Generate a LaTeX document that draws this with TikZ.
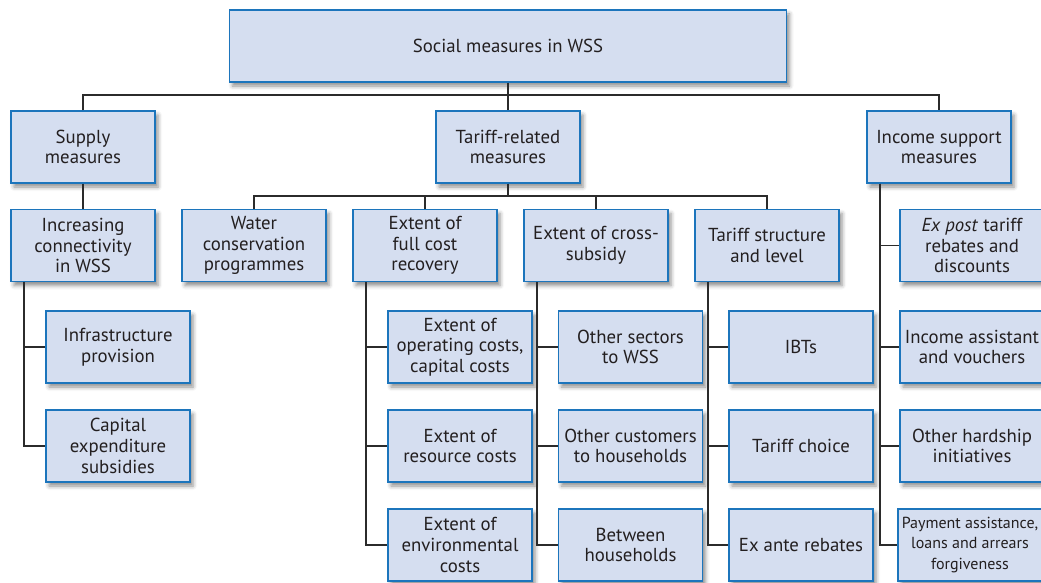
\documentclass[tikz,border=0pt]{standalone}
\usepackage{fontspec}
\setmainfont{PT Sans}
\usetikzlibrary{shadows.blur}
\definecolor{boxfill}{HTML}{D5DEF0}
\definecolor{boxline}{HTML}{1C75BC}
\definecolor{linkgray}{HTML}{2B2B2B}
\definecolor{textgray}{HTML}{231F20}
\tikzset{
  mbox/.style={draw=boxline, fill=boxfill, line width=1.3pt, text=textgray,
    minimum width=144pt, minimum height=72pt, inner sep=1pt, align=center,
    font=\fontsize{18.8}{20.7}\selectfont,
    blur shadow={shadow xshift=3pt, shadow yshift=-4pt, shadow blur radius=4pt, shadow opacity=45}},
  link/.style={draw=linkgray, line width=1.8pt}
}
\begin{document}
\begin{tikzpicture}[x=1pt, y=-1pt]
    \useasboundingbox (0,0) rectangle (1041,583);
    % Top level
    \node[mbox, minimum width=557pt] (top) at (508,46) {Social measures in WSS};
    % Second level
    \node[mbox] (supply) at (83,147) {Supply\\measures};
    \node[mbox] (tariff) at (508,147) {Tariff-related\\measures};
    \node[mbox] (income) at (939,147) {Income support\\measures};
    % Third level
    \node[mbox] (conn) at (83,245.5) {Increasing\\connectivity\\in WSS};
    \node[mbox] (water) at (254,245.5) {Water\\conservation\\programmes};
    \node[mbox] (fullcost) at (425,245.5) {Extent of\\full cost\\recovery};
    \node[mbox] (cross) at (596,245.5) {Extent of cross-\\subsidy};
    \node[mbox] (tstruct) at (767,245.5) {Tariff structure\\and level};
    \node[mbox] (expost) at (972,245.5) {\textit{Ex post} tariff\\rebates and\\discounts};
    % Fourth level
    \node[mbox] (infra) at (118,347) {Infrastructure\\provision};
    \node[mbox] (capex) at (118,446) {Capital\\expenditure\\subsidies};
    \node[mbox] (opcost) at (460,347) {Extent of\\operating costs,\\capital costs};
    \node[mbox] (rescost) at (460,446) {Extent of\\resource costs};
    \node[mbox] (envcost) at (460,545) {Extent of\\environmental\\costs};
    \node[mbox] (sectors) at (630.5,347) {Other sectors\\to WSS};
    \node[mbox] (customers) at (630.5,446) {Other customers\\to households};
    \node[mbox] (between) at (630.5,545) {Between\\households};
    \node[mbox] (ibt) at (801,347) {IBTs};
    \node[mbox] (choice) at (801,446) {Tariff choice};
    \node[mbox] (exante) at (801,545) {Ex ante rebates};
    \node[mbox] (vouchers) at (972,347) {Income assistant\\and vouchers};
    \node[mbox] (hardship) at (972,446) {Other hardship\\initiatives};
    \node[mbox, font=\fontsize{16}{20.7}\selectfont] (payment) at (970,545) {Payment assistance,\\loans and arrears\\forgiveness};

    % Connectors
    \coordinate (bustop) at (508,95);
    \coordinate (bustariff) at (508,196);
    \draw[link] (top.south) -- (tariff.north);
    \draw[link] (supply.north) |- (bustop) -| (income.north);
    \draw[link] (supply) -- (conn);
    \draw[link] (tariff.south) -- (bustariff);
    \draw[link] (water.north) |- (bustariff) -| (tstruct.north);
    \draw[link] (fullcost.north) -- (fullcost.north |- bustariff);
    \draw[link] (cross.north) -- (cross.north |- bustariff);
    \foreach \p/\c in {conn/infra, conn/capex, fullcost/opcost, fullcost/rescost, fullcost/envcost,
        cross/sectors, cross/customers, cross/between, tstruct/ibt, tstruct/choice, tstruct/exante,
        income/expost, income/vouchers, income/hardship} {
        \draw[link] ([xshift=14pt]\p.south west) |- (\c.west);
    }
    \draw[link] ([xshift=14pt]income.south west) |- (payment.west);
\end{tikzpicture}
\end{document}
